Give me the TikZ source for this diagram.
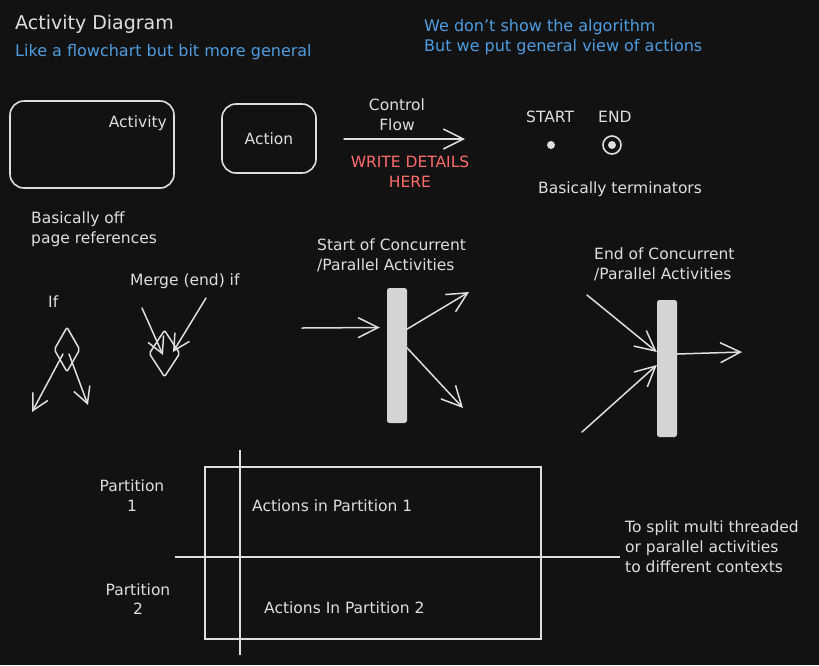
\documentclass[tikz,border=0pt]{standalone}
\usepackage{fontspec}
\setmainfont{DejaVu Sans}
\usepackage{tikz}
\usetikzlibrary{shapes.geometric, arrows.meta, positioning, calc}
\definecolor{bgdark}{RGB}{18,18,18}
\definecolor{inkgray}{RGB}{222,222,222}
\definecolor{barfill}{RGB}{212,212,212}
\definecolor{noteblue}{RGB}{77,157,224}
\definecolor{notered}{RGB}{255,107,107}
\newcommand{\fsnote}{\fontsize{15.5}{20}\selectfont}
\newcommand{\fstitle}{\fontsize{19}{22}\selectfont}
\tikzset{
  note/.style={font=\fsnote, text=inkgray, inner sep=0pt, align=left},
  bluenote/.style={note, text=noteblue, font=\fontsize{16}{20}\selectfont},
  rednote/.style={note, text=notered, align=center},
  actbox/.style={rectangle, draw=inkgray, line width=1.6pt, rounded corners=14pt},
  bar/.style={rectangle, fill=barfill, rounded corners=2.5pt,
    minimum width=20pt, inner sep=0pt},
  decision/.style={diamond, draw=inkgray, line width=1.5pt, inner sep=0pt,
    rounded corners=2pt},
  flow/.style={-{Straight Barb[length=20pt, width=20pt]}, draw=inkgray,
    line width=1.5pt, line cap=round},
  smallflow/.style={flow, -{Straight Barb[length=16pt, width=17pt]}},
  line/.style={draw=inkgray, line width=1.5pt}
}

\begin{document}
\begin{tikzpicture}[x=1pt, y=-1pt]
  \useasboundingbox[fill=bgdark] (0,0) rectangle (819,665);

  % headings
  \node[note, font=\fstitle, anchor=base west] (title) at (15,29) {Activity Diagram};
  \node[bluenote, anchor=base west] (subtitle) at (15,56) {Like a flowchart but bit more general};
  \node[bluenote, anchor=base west] (remark1) at (424,31) {We don't show the algorithm};
  \node[bluenote, anchor=base west] (remark2) at (424,51) {But we put general view of actions};

  % activity and action
  \draw[actbox] (10,101) rectangle (174,188);
  \node[note, anchor=base east] (activity) at (167,127) {Activity};
  \node[note, anchor=base west] (offpage1) at (31,223) {Basically off};
  \node[note, anchor=base west] (offpage2) at (31,243) {page references};
  \node[actbox, minimum width=94pt, minimum height=69pt, font=\fsnote,
    text=inkgray] (action) at (269,138.5) {Action};

  % control flow
  \coordinate (cfstart) at (344,139);
  \coordinate (cfend) at (465,139);
  \node[note, anchor=base] (control) at (397,110) {Control};
  \node[note, anchor=base] (flowlbl) at (397,130) {Flow};
  \draw[flow] (cfstart) -- (cfend);
  \node[rednote, anchor=base] (details) at (410,167) {WRITE DETAILS};
  \node[rednote, anchor=base] (here) at (410,187) {HERE};

  % terminators
  \node[note, anchor=base west] (startlbl) at (526,122) {START};
  \node[note, anchor=base west] (endlbl) at (598,122) {END};
  \node[circle, fill=inkgray, minimum size=8pt, inner sep=0pt] (startdot) at (551,145) {};
  \node[circle, draw=inkgray, line width=1.6pt, minimum size=18pt, inner sep=0pt] (endring) at (612,145) {};
  \node[circle, fill=inkgray, minimum size=8pt, inner sep=0pt] (enddot) at (endring.center) {};
  \node[note, anchor=base west] (termlbl) at (538,193) {Basically terminators};

  % decision and merge
  \node[note, anchor=base west] (iflbl) at (48,307) {If};
  \node[decision, minimum width=26pt, minimum height=45pt] (ifdec) at (67,349.5) {};
  \coordinate (ifleft) at (32,412);
  \coordinate (ifright) at (88,405);
  \draw[smallflow] ([xshift=-4pt,yshift=-4.5pt]ifdec.center) -- (ifleft);
  \draw[smallflow] ([xshift=2pt,yshift=-4.5pt]ifdec.center) -- (ifright);

  \node[note, anchor=base west] (mergelbl) at (130,285) {Merge (end) if};
  \node[decision, minimum width=31pt, minimum height=47pt] (merge) at (164.5,353.5) {};
  \coordinate (mergein1) at (142,308);
  \coordinate (mergein2) at (206,298);
  \draw[smallflow] (mergein1) -- ([xshift=-1.5pt,yshift=-1.5pt]merge.center);
  \draw[smallflow] (mergein2) -- ([xshift=8.5pt,yshift=1.5pt]merge.center);

  % fork
  \node[note, anchor=base west] (forklbl1) at (317,250) {Start of Concurrent};
  \node[note, anchor=base west] (forklbl2) at (317,270) {/Parallel Activities};
  \node[bar, minimum height=135pt] (fork) at (397,355.5) {};
  \coordinate (forkin) at (302,328);
  \coordinate (forkout1) at (469,292);
  \coordinate (forkout2) at (463,408);
  \draw[flow] (forkin) -- ([xshift=-7pt,yshift=28pt]fork.west);
  \draw[flow] ([yshift=26.5pt]fork.east) -- (forkout1);
  \draw[flow] ([yshift=7.5pt]fork.east) -- (forkout2);

  % join
  \node[note, anchor=base west] (joinlbl1) at (594,259) {End of Concurrent};
  \node[note, anchor=base west] (joinlbl2) at (594,279) {/Parallel Activities};
  \node[bar, minimum height=137pt] (join) at (667,368.5) {};
  \coordinate (joinin1) at (587,295);
  \coordinate (joinin2) at (582,432);
  \coordinate (joinout) at (742,352);
  \draw[flow] (joinin1) -- ([yshift=16.5pt]join.west);
  \draw[flow] (joinin2) -- ([yshift=3.5pt]join.west);
  \draw[flow] ([yshift=14.5pt]join.east) -- (joinout);

  % partitions
  \draw[line] (205,467) rectangle (541,639);
  \draw[line] (240,450) -- (240,655);
  \draw[line] (175,557) -- (620,557);
  \node[note, align=center, anchor=base] (part1) at (132,491) {Partition};
  \node[note, anchor=base] (part1n) at (132,511) {1};
  \node[note, align=center, anchor=base] (part2) at (138,595) {Partition};
  \node[note, anchor=base] (part2n) at (138,614) {2};
  \node[note, anchor=base west] (acts1) at (252,511) {Actions in Partition 1};
  \node[note, anchor=base west] (acts2) at (264,613) {Actions In Partition 2};
  \node[note, anchor=base west] (split1) at (625,532) {To split multi threaded};
  \node[note, anchor=base west] (split2) at (625,552) {or parallel activities};
  \node[note, anchor=base west] (split3) at (625,572) {to different contexts};
\end{tikzpicture}
\end{document}
